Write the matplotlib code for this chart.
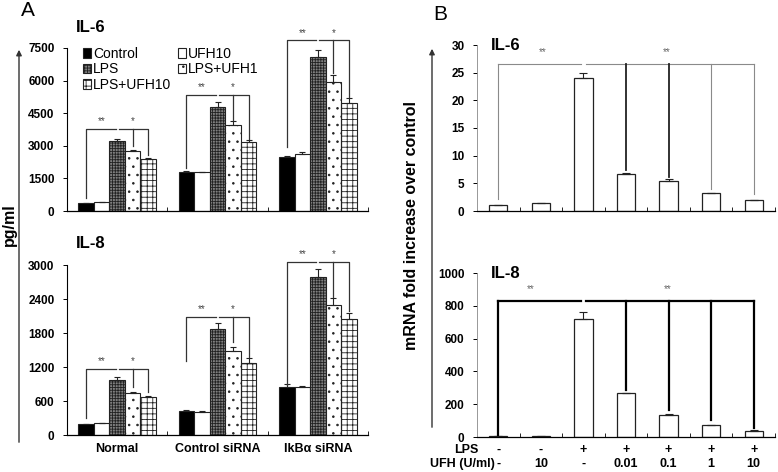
import numpy as np
import matplotlib
matplotlib.use("Agg")
import matplotlib.pyplot as plt
from matplotlib.patches import FancyArrowPatch, Patch

plt.rcParams['font.family'] = ['Liberation Sans', 'DejaVu Sans']
plt.rcParams['hatch.linewidth'] = 0.6

# ---- data: panel A (pg/ml) ----
groups = ['Normal', 'Control siRNA', 'IkB\u03b1 siRNA']
treatments = ['Control', 'UFH10', 'LPS', 'LPS+UFH1', 'LPS+UFH10']
il6_a = [[354, 400, 3220, 2760, 2380],
         [1780, 1780, 4770, 3960, 3160],
         [2470, 2620, 7070, 5950, 4955]]
il6_a_err = [[30, 20, 90, 60, 60],
             [40, 30, 230, 195, 110],
             [50, 90, 330, 310, 230]]
il8_a = [[189, 206, 970, 736, 676],
         [424, 410, 1866, 1488, 1276],
         [852, 841, 2783, 2294, 2041]]
il8_a_err = [[10, 8, 48, 23, 18],
             [15, 12, 105, 70, 77],
             [42, 15, 146, 118, 118]]
# bracket height, drop ends (control, UFH1, UFH10)
il6_brk = [(3760, 600, 2990, 2580), (5330, 1980, 4200, 3290), (7850, 2960, 6350, 5260)]
il8_brk = [(1160, 295, 853, 765), (2077, 1311, 1647, 1380), (3047, 882, 2430, 2180)]

# ---- data: panel B (mRNA fold) ----
lps_row = ['-', '-', '+', '+', '+', '+', '+']
ufh_row = ['-', '10', '-', '0.01', '0.1', '1', '10']
il6_b = [1.1, 1.5, 24.0, 6.6, 5.5, 3.3, 1.9]
il6_b_err = [0, 0, 1.0, 0.35, 0.35, 0, 0]
il8_b = [5, 4, 721, 268, 134, 71, 35]
il8_b_err = [0, 0, 39, 3, 6, 0, 5]
il6_b_brk = (26.5, [2.2, None, None, 7.4, 6.2, 4.0, 3.1])
il8_b_brk = (829, [14, None, None, 289, 167, 106, 55])

styles = [dict(facecolor='black', hatch=None),
          dict(facecolor='white', hatch=None),
          dict(facecolor='#808080', hatch='++++++'),
          dict(facecolor='white', hatch='..'),
          dict(facecolor='white', hatch='+++')]

W, H = 778, 472
fig = plt.figure(figsize=(7.78, 4.72), dpi=100)


def px_axes(x0, x1, ytop, ybot):
    return fig.add_axes([x0 / W, 1 - ybot / H, (x1 - x0) / W, (ybot - ytop) / H])


def style_axes(ax, spine_color='black', lw=0.8):
    for s in ['top', 'right']:
        ax.spines[s].set_visible(False)
    ax.spines['left'].set_color(spine_color)
    ax.spines['left'].set_linewidth(lw)
    ax.spines['bottom'].set_linewidth(0.9)
    ax.tick_params(axis='y', length=3, width=0.7, labelsize=8.5, pad=6)
    for lab in ax.get_yticklabels():
        lab.set_fontweight('bold')


def stars(ax, s, x, y, dy, color):
    ax.annotate(s, (x, y), xytext=(0, dy), textcoords='offset points',
                ha='center', va='bottom', fontsize=7, color=color,
                annotation_clip=False)


def panel_a(ax, vals, errs, brks, ymax, yticks, title, xlabels, legend=False):
    w = 0.155
    offs = (np.arange(5) - 2) * w
    for i in range(5):
        x = np.arange(3) + offs[i]
        v = [vals[g][i] for g in range(3)]
        e = [errs[g][i] for g in range(3)]
        ax.bar(x, v, w, edgecolor='#222222', linewidth=0.8, label=treatments[i],
               **styles[i])
        ax.errorbar(x, v, yerr=[np.zeros(3), e], fmt='none', ecolor='#222222',
                    elinewidth=0.8, capsize=2.5, capthick=0.8)
    for g in range(3):
        h, dc, d1, d2 = brks[g]
        xc, xl, x1, x2 = g + offs[0], g, g + offs[3], g + offs[4]
        kw = dict(color='#333333', lw=0.9, clip_on=False)
        ax.plot([xc, xc, xl - 0.015], [dc, h, h], **kw)
        ax.plot([xl + 0.015, x2, x2], [h, h, d2], **kw)
        ax.plot([x1, x1], [h, d1], **kw)
        stars(ax, '**', (xc + xl) / 2, h, 2, '#444444')
        stars(ax, '*', x1, h, 2, '#444444')
    ax.set_xlim(-0.5, 2.5)
    ax.set_ylim(0, ymax)
    ax.set_yticks(yticks)
    ax.set_xticks([0.5, 1.5, 2.5], minor=True)
    ax.tick_params(axis='x', which='minor', direction='in', length=3)
    ax.set_xticks([0, 1, 2])
    ax.tick_params(axis='x', which='major', length=0, pad=6)
    if xlabels:
        ax.set_xticklabels(groups, fontsize=9, fontweight='bold')
    else:
        ax.set_xticklabels([])
    style_axes(ax)
    ax.text(0.03, 1.08, title, transform=ax.transAxes, fontsize=12, fontweight='bold',
            ha='left', va='bottom')
    if legend:
        handles = [Patch(edgecolor='#222222', linewidth=0.8, **styles[i]) for i in range(5)]
        order = [0, 2, 4, 1, 3]
        ax.legend([handles[i] for i in order], [treatments[i] for i in order],
                  ncol=2, loc='upper left', bbox_to_anchor=(0.035, 1.04), frameon=False,
                  fontsize=10, handlelength=0.55, handleheight=0.7,
                  handletextpad=0.15, columnspacing=0.5, labelspacing=0.1,
                  borderaxespad=0)


def panel_b(ax, vals, errs, brk, ymax, yticks, title, heavy, star_x):
    x = np.arange(7)
    ax.bar(x, vals, 0.43, facecolor='white', edgecolor='#222222', linewidth=0.9)
    ax.errorbar(x, vals, yerr=[np.zeros(7), errs], fmt='none', ecolor='#222222',
                elinewidth=0.8, capsize=3, capthick=0.8)
    h, drops = brk
    if heavy:
        kw = dict(color='black', lw=1.6, clip_on=False)
        kw_d = [kw] * 7
    else:
        kw = dict(color='#8a8a8a', lw=0.8, clip_on=False)
        dark = dict(color='#222222', lw=1.3, clip_on=False)
        kw_d = [kw, kw, kw, dark, dark, kw, kw]
    ax.plot([0, 2 - 0.06], [h, h], **kw)
    ax.plot([2 + 0.06, 6], [h, h], **kw)
    for i, d in enumerate(drops):
        if d is not None:
            ax.plot([i, i], [h, d], **kw_d[i])
    for sx in star_x:
        stars(ax, '**', sx, h, 5, '#666666')
    ax.set_xlim(-0.5, 6.5)
    ax.set_ylim(0, ymax)
    ax.set_yticks(yticks)
    ax.set_xticks(np.arange(7) + 0.5, minor=True)
    ax.tick_params(axis='x', which='minor', direction='in', length=3)
    ax.set_xticks([])
    style_axes(ax, spine_color='#888888', lw=0.6)
    ax.text(0.045, 1.0, title, transform=ax.transAxes, fontsize=12, fontweight='bold',
            ha='left', va='center')


ax1 = px_axes(67, 368, 48, 211)
panel_a(ax1, il6_a, il6_a_err, il6_brk, 7500, np.arange(0, 7501, 1500), 'IL-6', False, legend=True)
ax2 = px_axes(67, 368, 265, 435)
panel_a(ax2, il8_a, il8_a_err, il8_brk, 3000, np.arange(0, 3001, 600), 'IL-8', True)

ax3 = px_axes(477, 775, 45, 211)
panel_b(ax3, il6_b, il6_b_err, il6_b_brk, 30, np.arange(0, 31, 5), 'IL-6', False, [1.04, 3.95])
ax4 = px_axes(477, 775, 273, 437)
panel_b(ax4, il8_b, il8_b_err, il8_b_brk, 1000, np.arange(0, 1001, 200), 'IL-8', True, [0.76, 3.99])

# condition rows under panel B
tr = ax4.get_xaxis_transform()
for i in range(7):
    ax4.text(i, -0.08, lps_row[i], transform=tr, ha='center', va='center',
             fontsize=9, fontweight='bold')
    ax4.text(i, -0.165, ufh_row[i], transform=tr, ha='center', va='center',
             fontsize=9, fontweight='bold')
fig.text(466 / W, 1 - 450 / H, 'LPS', ha='center', va='center', fontsize=9, fontweight='bold')
fig.text(462 / W, 1 - 464 / H, 'UFH (U/ml)', ha='center', va='center', fontsize=9,
         fontweight='bold')

# big y-axis arrows and labels
for xa, y0, y1 in [(19, 445, 47), (432, 430, 46)]:
    fig.add_artist(FancyArrowPatch((xa / W, 1 - y0 / H), (xa / W, 1 - y1 / H),
                                   transform=fig.transFigure, arrowstyle='-|>',
                                   mutation_scale=8, lw=1.0, color='#333333'))
fig.text(9 / W, 1 - 225 / H, 'pg/ml', rotation=90, ha='center', va='center',
         fontsize=11.5, fontweight='bold')
fig.text(412 / W, 1 - 225 / H, 'mRNA fold increase over control', rotation=90,
         ha='center', va='center', fontsize=11.5, fontweight='bold')

fig.text(28 / W, 1 - 11 / H, 'A', ha='center', va='center', fontsize=15)
fig.text(440 / W, 1 - 14 / H, 'B', ha='center', va='center', fontsize=15)

fig.savefig('out.png', dpi=100)
